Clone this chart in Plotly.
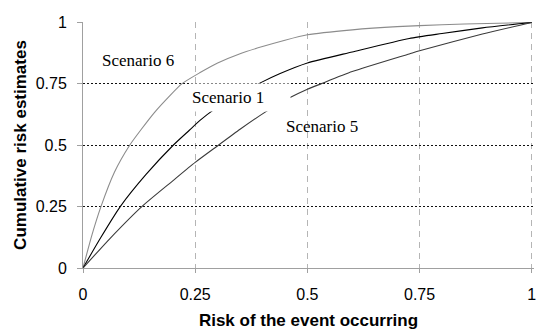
import plotly.graph_objects as go

# Data
s6_x = [0, 0.02, 0.04, 0.07, 0.104, 0.13, 0.16, 0.19, 0.22, 0.26, 0.30, 0.35, 0.40, 0.45, 0.5, 0.6, 0.7, 0.8, 0.9, 1]
s6_y = [0, 0.135, 0.25, 0.39, 0.5, 0.565, 0.635, 0.695, 0.75, 0.795, 0.835, 0.873, 0.902, 0.928, 0.95, 0.97, 0.983, 0.991, 0.996, 1]

s1_x = [0, 0.04, 0.083, 0.14, 0.201, 0.237, 0.26, 0.294, 0.34, 0.394, 0.438, 0.5, 0.6, 0.727, 0.8, 0.89, 1]
s1_y = [0, 0.125, 0.25, 0.38, 0.5, 0.561, 0.60, 0.648, 0.70, 0.753, 0.791, 0.835, 0.88, 0.935, 0.955, 0.978, 1]

s5_x = [0, 0.06, 0.131, 0.2, 0.25, 0.298, 0.35, 0.406, 0.457, 0.5, 0.53, 0.6, 0.727, 0.75, 0.89, 1]
s5_y = [0, 0.12, 0.25, 0.355, 0.43, 0.495, 0.565, 0.635, 0.69, 0.728, 0.75, 0.80, 0.872, 0.885, 0.953, 1]

tick_vals = [0, 0.25, 0.5, 0.75, 1]
tick_text = ["0", "0.25", "0.5", "0.75", "1"]

fig = go.Figure()
fig.add_trace(go.Scatter(x=s6_x, y=s6_y, mode="lines", name="Scenario 6",
                         line=dict(color="#8c8c8c", width=1.1, shape="spline", smoothing=0.6)))
fig.add_trace(go.Scatter(x=s1_x, y=s1_y, mode="lines", name="Scenario 1",
                         line=dict(color="#000000", width=1.1, shape="spline", smoothing=0.6)))
fig.add_trace(go.Scatter(x=s5_x, y=s5_y, mode="lines", name="Scenario 5",
                         line=dict(color="#3a3a3a", width=1.1, shape="spline", smoothing=0.6)))

serif = "Liberation Serif, Times New Roman, serif"
fig.add_annotation(x=0.123, y=0.845, text="Scenario 6", showarrow=False,
                   font=dict(family=serif, size=17, color="black"))
fig.add_annotation(x=0.3496, y=0.693, text="Scenario 1", showarrow=False,
                   font=dict(family=serif, size=17, color="black"),
                   width=96, height=23, align="left", borderpad=2, bgcolor="white")
fig.add_annotation(x=0.533, y=0.577, text="Scenario 5", showarrow=False,
                   font=dict(family=serif, size=17, color="black"))

sans = "Liberation Sans, Arial, sans-serif"
fig.update_layout(
    width=537, height=333,
    margin=dict(l=83, r=3, t=22, b=65),
    paper_bgcolor="white", plot_bgcolor="white",
    showlegend=False,
    font=dict(family=sans, size=16, color="black"),
    xaxis=dict(
        range=[0, 1.005], tickvals=tick_vals, ticktext=tick_text,
        showgrid=True, gridcolor="#b5b5b5", griddash="6px,5px", gridwidth=1,
        zeroline=False, showline=True, linecolor="#a0a0a0", linewidth=1,
        ticks="outside", ticklen=4, tickcolor="#a0a0a0",
        tickfont=dict(family=sans, size=16), ticklabelstandoff=8,
        ticklabeloverflow="allow",
        title=dict(text="<b>Risk of the event occurring</b>", font=dict(family=sans, size=17), standoff=11),
        automargin=False,
    ),
    yaxis=dict(
        range=[0, 1.002], tickvals=tick_vals, ticktext=tick_text,
        showgrid=True, gridcolor="#111111", griddash="2px,2px", gridwidth=1,
        zeroline=False, showline=True, linecolor="#a0a0a0", linewidth=1,
        ticks="outside", ticklen=5, tickcolor="#a0a0a0",
        tickfont=dict(family=sans, size=16), ticklabelstandoff=7,
        ticklabeloverflow="allow",
        title=dict(text="<b>Cumulative risk estimates</b>", font=dict(family=sans, size=17), standoff=4),
        automargin=False,
    ),
)

# remove the page's default body margin so the 537x333 figure fills the window exactly
fig.write_html("out.html",
               config={"displayModeBar": False, "staticPlot": True},
               post_script="document.body.style.margin='0';document.body.style.overflow='hidden';")
